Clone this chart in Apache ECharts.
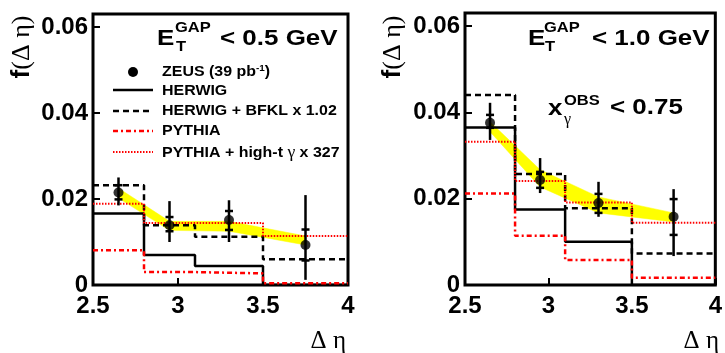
<!DOCTYPE html>
<html>
<head>
<meta charset="utf-8">
<script src="https://cdn.jsdelivr.net/npm/echarts@6.0.0/dist/echarts.min.js"></script>
<style>
  html, body { margin: 0; padding: 0; background: #fff; }
  #chart { width: 725px; height: 353px; }
</style>
</head>
<body>
<div id="chart"></div>
<script>
// bins and tick values
const binEdges = [2.5, 2.8, 3.1, 3.5, 4];
const xTicks = [2.5, 3, 3.5, 4];
const yTicks = [0, 0.02, 0.04, 0.06];
const zeusX = [2.65, 2.95, 3.3, 3.75];

// E_T^GAP < 0.5 GeV
const zeusY05 = [0.0215, 0.0139, 0.0151, 0.0093];
const statLo05 = [0.0199, 0.0125, 0.0128, 0.0057];
const statHi05 = [0.0232, 0.0158, 0.0172, 0.0129];
const totLo05 = [0.0185, 0.0100, 0.0100, 0.0012];
const totHi05 = [0.0250, 0.0195, 0.0197, 0.0209];
const bandLo05 = [0.0202, 0.0127, 0.0125, 0.0093];
const bandHi05 = [0.0225, 0.0148, 0.0148, 0.0114];
const herwig05 = [0.0166, 0.0070, 0.0044, 0.0];
const herwigBfkl05 = [0.0232, 0.0139, 0.0112, 0.0060];
const pythia05 = [0.0081, 0.0030, 0.0027, 0.0004];
const pythiaHighT05 = [0.0189, 0.0144, 0.0144, 0.0114];

// E_T^GAP < 1.0 GeV, x_gamma^OBS < 0.75
const zeusY10 = [0.0376, 0.0243, 0.0190, 0.0158];
const statLo10 = [0.0364, 0.0225, 0.0167, 0.0116];
const statHi10 = [0.0394, 0.0262, 0.0211, 0.0199];
const totLo10 = [0.0336, 0.0213, 0.0158, 0.0067];
const totHi10 = [0.0422, 0.0294, 0.0239, 0.0222];
const bandLo10 = [0.0355, 0.0227, 0.0167, 0.0146];
const bandHi10 = [0.0378, 0.0267, 0.0204, 0.0167];
const herwig10 = [0.0365, 0.0175, 0.0100, 0.0];
const herwigBfkl10 = [0.0440, 0.0257, 0.0178, 0.0073];
const pythia10 = [0.0212, 0.0114, 0.0058, 0.0017];
const pythiaHighT10 = [0.0332, 0.0241, 0.0191, 0.0144];

const SANS = 'Liberation Sans, Arial, sans-serif';
const SERIF = 'Liberation Serif, DejaVu Serif, serif';

function histData(vals) {
  let d = binEdges.slice(0, -1).map((e, i) => [e, vals[i]]);
  d.push([binEdges[binEdges.length - 1], vals[vals.length - 1]]);
  return d;
}

function hist(idx, vals, color, type, width) {
  return {
    type: 'line', xAxisIndex: idx, yAxisIndex: idx,
    step: 'end', symbol: 'none', z: 3,
    data: histData(vals),
    lineStyle: { color: color, type: type, width: width }
  };
}

// yellow band, one quad per segment between neighbouring points
function bandItem(params, api) {
  const a = api.coord([api.value(0), api.value(1)]);
  const b = api.coord([api.value(3), api.value(4)]);
  const c = api.coord([api.value(3), api.value(5)]);
  const d = api.coord([api.value(0), api.value(2)]);
  return {
    type: 'polygon',
    shape: { points: [a, b, c, d] },
    style: { fill: '#ffff00', stroke: '#ffff00', lineWidth: 0.5 }
  };
}

function errorBarItem(params, api) {
  const x = api.value(0);
  const top = api.coord([x, api.value(2)]);
  const bot = api.coord([x, api.value(1)]);
  const sHi = api.coord([x, api.value(4)]);
  const sLo = api.coord([x, api.value(3)]);
  const w = 4;
  const st = { stroke: '#000', lineWidth: 2.5 };
  return {
    type: 'group',
    children: [
      { type: 'line', shape: { x1: top[0], y1: top[1], x2: bot[0], y2: bot[1] }, style: st },
      { type: 'line', shape: { x1: sHi[0] - w, y1: sHi[1], x2: sHi[0] + w, y2: sHi[1] }, style: st },
      { type: 'line', shape: { x1: sLo[0] - w, y1: sLo[1], x2: sLo[0] + w, y2: sLo[1] }, style: st }
    ]
  };
}

function panelSeries(idx, zy, sLo, sHi, tLo, tHi, bLo, bHi, hw, hb, py, pyh) {
  const bandData = [];
  for (let i = 0; i < zeusX.length - 1; i++) {
    bandData.push([zeusX[i], bLo[i], bHi[i], zeusX[i + 1], bLo[i + 1], bHi[i + 1]]);
  }
  return [
    {
      type: 'custom', xAxisIndex: idx, yAxisIndex: idx, z: 1,
      renderItem: bandItem,
      encode: { x: [0, 3], y: [1, 2, 4, 5] },
      data: bandData
    },
    hist(idx, hw, '#000', 'solid', 2.5),
    hist(idx, hb, '#000', [6, 4], 2.5),
    hist(idx, py, '#ff0000', [5, 3, 2, 3], 2.5),
    hist(idx, pyh, '#ff0000', [1.5, 1.5], 2),
    {
      type: 'custom', xAxisIndex: idx, yAxisIndex: idx, z: 4,
      renderItem: errorBarItem,
      encode: { x: 0, y: [1, 2] },
      data: zeusX.map((x, i) => [x, tLo[i], tHi[i], sLo[i], sHi[i]])
    },
    {
      type: 'scatter', xAxisIndex: idx, yAxisIndex: idx, z: 5,
      symbolSize: 10, itemStyle: { color: '#000' },
      data: zeusX.map((x, i) => [x, zy[i]])
    }
  ];
}

function xAxisFor(idx) {
  return {
    gridIndex: idx, type: 'value', min: 2.5, max: 4, interval: 0.5,
    axisLine: { show: false },
    splitLine: { show: false },
    axisTick: { inside: true, length: 7, customValues: xTicks, lineStyle: { color: '#000', width: 2 } },
    axisLabel: {
      customValues: xTicks, margin: 9, color: '#000',
      fontFamily: SANS, fontWeight: 'bold', fontSize: 24
    }
  };
}

function yAxisFor(idx) {
  return {
    gridIndex: idx, type: 'value', min: 0, max: 0.063, interval: 0.02,
    axisLine: { show: false },
    splitLine: { show: false },
    axisTick: { inside: true, length: 7, customValues: yTicks, lineStyle: { color: '#000', width: 2 } },
    axisLabel: {
      customValues: yTicks, margin: 5, color: '#000',
      fontFamily: SANS, fontWeight: 'bold', fontSize: 24
    }
  };
}

function txt(x, y, text, size, opts) {
  opts = opts || {};
  return {
    type: 'text', x: x, y: y, z: 10,
    scaleX: opts.scaleX || 1,
    rotation: opts.rotation || 0,
    style: {
      text: text, fill: '#000',
      font: (opts.weight || 'bold') + ' ' + size + 'px ' + (opts.family || SANS),
      textAlign: opts.align || 'left', textVerticalAlign: 'middle',
      verticalAlign: 'middle',
      rich: opts.rich
    }
  };
}

function legendLine(x1, x2, y, color, dash, width) {
  return {
    type: 'line', z: 10,
    shape: { x1: x1, y1: y, x2: x2, y2: y },
    style: { stroke: color, lineWidth: width, lineDash: dash }
  };
}

const yLabelRich = {
  b: { fontFamily: SANS, fontWeight: 'bold', fontSize: 26 },
  s: { fontFamily: SERIF, fontWeight: 'normal', fontSize: 26 }
};

const legRich = {
  sup: { fontFamily: SANS, fontWeight: 'bold', fontSize: 9, verticalAlign: 'top', lineHeight: 16 },
  g: { fontFamily: SERIF, fontWeight: 'normal', fontSize: 16 }
};

const graphics = [
  // axis titles
  txt(22, 47, '{b|f}{s|(Δ η)}', 26, { rotation: Math.PI / 2, align: 'center', rich: yLabelRich }),
  txt(393, 47, '{b|f}{s|(Δ η)}', 26, { rotation: Math.PI / 2, align: 'center', rich: yLabelRich }),
  txt(346, 341, 'Δ η', 25, { weight: 'normal', family: SERIF, align: 'right' }),
  txt(719, 341, 'Δ η', 25, { weight: 'normal', family: SERIF, align: 'right' }),

  // left panel title
  txt(157, 39, 'E', 22, { scaleX: 1.18 }),
  txt(175, 28, 'GAP', 14, { scaleX: 1.18 }),
  txt(176, 47, 'T', 14, { scaleX: 1.18 }),
  txt(220, 39, '< 0.5 GeV', 22, { scaleX: 1.18 }),

  // right panel title
  txt(528, 39, 'E', 22, { scaleX: 1.18 }),
  txt(544, 28, 'GAP', 14, { scaleX: 1.18 }),
  txt(545, 47, 'T', 14, { scaleX: 1.18 }),
  txt(592, 39, '< 1.0 GeV', 22, { scaleX: 1.18 }),
  txt(548, 109, 'x', 22, { scaleX: 1.18 }),
  txt(564, 101, 'OBS', 14, { scaleX: 1.18 }),
  txt(564, 120, 'γ', 16, { weight: 'normal', family: SERIF }),
  txt(610, 108, '< 0.75', 22, { scaleX: 1.18 }),

  // legend
  { type: 'circle', z: 10, shape: { cx: 133, cy: 72, r: 5 }, style: { fill: '#000' } },
  legendLine(113, 153, 90, '#000', null, 2.5),
  legendLine(113, 153, 111, '#000', [6, 4], 2.5),
  legendLine(113, 153, 131, '#ff0000', [5, 3, 2, 3], 2.5),
  legendLine(113, 153, 152, '#ff0000', [1.5, 1.5], 2),
  txt(162, 72, 'ZEUS (39 pb{sup|-1})', 14.5, { scaleX: 1.1, rich: legRich }),
  txt(162, 91, 'HERWIG', 14.5, { scaleX: 1.1 }),
  txt(162, 111, 'HERWIG + BFKL x 1.02', 14.5, { scaleX: 1.1 }),
  txt(162, 131, 'PYTHIA', 14.5, { scaleX: 1.1 }),
  txt(162, 153, 'PYTHIA + high-t {g|γ} x 327', 14.5, { scaleX: 1.1, rich: legRich })
];

const option = {
  animation: false,
  backgroundColor: '#fff',
  grid: [
    { left: 93, top: 14, width: 255, height: 271, show: true, borderColor: '#000', borderWidth: 3, backgroundColor: 'transparent' },
    { left: 465, top: 13, width: 254, height: 272, show: true, borderColor: '#000', borderWidth: 3, backgroundColor: 'transparent' }
  ],
  xAxis: [xAxisFor(0), xAxisFor(1)],
  yAxis: [yAxisFor(0), yAxisFor(1)],
  series: [].concat(
    panelSeries(0, zeusY05, statLo05, statHi05, totLo05, totHi05, bandLo05, bandHi05,
      herwig05, herwigBfkl05, pythia05, pythiaHighT05),
    panelSeries(1, zeusY10, statLo10, statHi10, totLo10, totHi10, bandLo10, bandHi10,
      herwig10, herwigBfkl10, pythia10, pythiaHighT10)
  ),
  graphic: graphics
};

const myChart = echarts.init(document.getElementById('chart'), null, { renderer: 'canvas' });
myChart.setOption(option);
</script>
</body>
</html>
